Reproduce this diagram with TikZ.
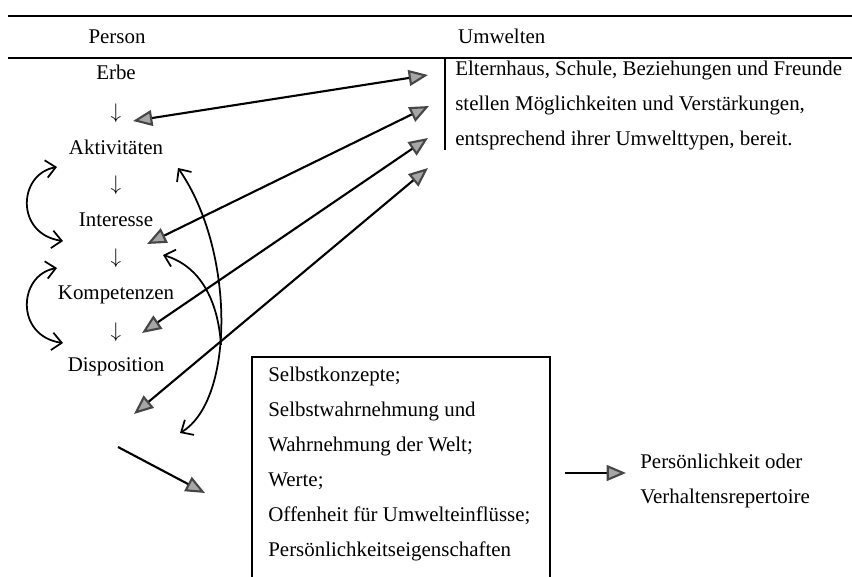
\documentclass[tikz,border=0pt]{standalone}
\usepackage{fontspec}
\setmainfont{Liberation Serif}
\usetikzlibrary{arrows.meta}

\begin{document}
\begin{tikzpicture}[
        x=0.02cm, y=-0.02cm,
        font=\fontsize{11.9}{19.9}\selectfont,
        tri/.tip={Triangle[length=11pt, width=9pt, color=gray!55!black, fill=gray!70]},
        barb/.tip={Straight Barb[length=5.5pt, width=10pt, line width=1pt]},
        rule/.style={line width=1.1pt},
        env arrow/.style={tri-tri, line width=1.2pt},
        loop arrow/.style={barb-barb, line width=1pt},
        out arrow/.style={-tri, line width=1.2pt}
    ]
        \useasboundingbox (0,0) rectangle (852,577);

        % header
        \draw[rule] (8,16) -- (852,16);
        \draw[rule] (8,58) -- (852,58);
        \draw[rule] (445,58) -- (445,150);
        \node (person) at (117,37) {Person};
        \node[anchor=west] (umwelten) at (452,36) {Umwelten};

        % person column
        \node (erbe) at (116,72)  {Erbe};
        \node (d1)   at (116,113) {$\downarrow$};
        \node (akt)  at (116,147) {Aktivitäten};
        \node (d2)   at (116,185) {$\downarrow$};
        \node (int)  at (116,220) {Interesse};
        \node (d3)   at (116,258) {$\downarrow$};
        \node (komp) at (116,295) {Kompetenzen};
        \node (d4)   at (116,332) {$\downarrow$};
        \node (disp) at (116,367) {Disposition};

        % environments
        \node[anchor=north west, align=left, inner sep=0pt] (env) at (455,61)
            {Elternhaus, Schule, Beziehungen und Freunde\\
             stellen Möglichkeiten und Verstärkungen,\\
             entsprechend ihrer Umwelttypen, bereit.};

        \coordinate (u1) at (428,75);
        \coordinate (u2) at (429,106);
        \coordinate (u3) at (428,138);
        \coordinate (u4) at (428,168);
        \coordinate (p1) at (133,121);
        \coordinate (p2) at (147,244);
        \coordinate (p3) at (142,333);
        \coordinate (p4) at (134,414);
        \draw[env arrow] (p1) -- (u1);
        \draw[env arrow] (p2) -- (u2);
        \draw[env arrow] (p3) -- (u3);
        \draw[env arrow] (p4) -- (u4);

        % feedback loops
        \coordinate (l1) at (57,167);
        \coordinate (l2) at (63,241);
        \coordinate (l3) at (57,268);
        \coordinate (l4) at (63,343);
        \draw[loop arrow] (l1) .. controls (18,174) and (15,234) .. (l2);
        \draw[loop arrow] (l3) .. controls (18,275) and (15,336) .. (l4);

        \coordinate (r1) at (178,168);
        \coordinate (r2) at (180,433);
        \coordinate (r3) at (163,255);
        \coordinate (rm) at (221,345);
        \draw[loop arrow] (r1) .. controls (235,250) and (235,400) .. (r2);
        \draw[barb-, line width=1pt] (r3) .. controls (200,266) and (218,300) .. (rm);

        % self concept box
        \draw[rule] (252,577) |- (550,357) -- (550,577);
        \node[anchor=north west, align=left, inner sep=0pt] (selbst) at (268,367)
            {Selbstkonzepte;\\
             Selbstwahrnehmung und\\
             Wahrnehmung der Welt;\\
             Werte;\\
             Offenheit für Umwelteinflüsse;\\
             Persönlichkeitseigenschaften};

        \coordinate (s0) at (118,447);
        \coordinate (s1) at (205,493);
        \draw[out arrow] (s0) -- (s1);

        % result
        \coordinate (b0) at (565,473);
        \coordinate (b1) at (626,473);
        \draw[out arrow] (b0) -- (b1);
        \node[anchor=north west, align=left, inner sep=0pt] (result) at (640,454)
            {Persönlichkeit oder\\
             Verhaltensrepertoire};
\end{tikzpicture}
\end{document}
